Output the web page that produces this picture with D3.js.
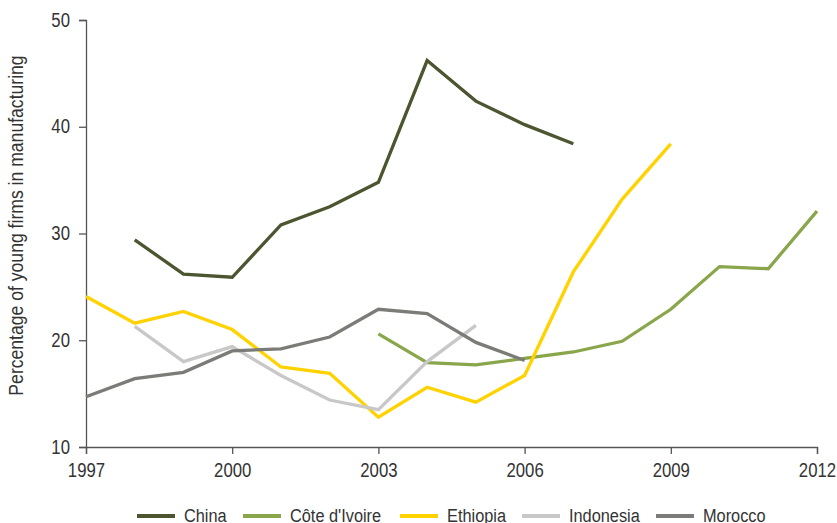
<!DOCTYPE html>
<html lang="en">
<head>
<meta charset="UTF-8">
<title>young firms in manufacturing</title>
<script src="https://d3js.org/d3.v7.min.js"></script>
<style>
body {
  margin: 0;
  background: #fff;
  font-family: 'Liberation Sans', Arial, sans-serif;
}
.axis path, .axis line {
  stroke: #555;
  stroke-width: 1.3px;
}
.axis text {
  fill: #333;
  font-size: 19.5px;
  font-family: 'Liberation Sans', Arial, sans-serif;
}
.ylabel {
  fill: #333;
  font-size: 20px;
}
.legend text {
  fill: #333;
  font-size: 19px;
}
</style>
</head>
<body>
<svg width="837" height="523"></svg>
<script>
// years on the x axis, one value per year (null = no survey)
var years = d3.range(1997, 2013);
var tickYears = [1997, 2000, 2003, 2006, 2009, 2012];
var yTicks = [10, 20, 30, 40, 50];

var china =      [null, 29.4, 26.2, 25.9, 30.8, 32.5, 34.8, 46.2, 42.4, 40.2, 38.4, null, null, null, null, null];
var coteIvoire = [null, null, null, null, null, null, 20.6, 17.9, 17.7, 18.3, 18.9, 19.9, 22.9, 26.9, 26.7, 32.1];
var ethiopia =   [24.1, 21.6, 22.7, 21.0, 17.5, 16.9, 12.8, 15.6, 14.2, 16.7, 26.4, 33.2, 38.4, null, null, null];
var indonesia =  [null, 21.3, 18.0, 19.4, 16.7, 14.4, 13.5, 18.0, 21.4, null, null, null, null, null, null, null];
var morocco =    [14.7, 16.4, 17.0, 19.0, 19.2, 20.3, 22.9, 22.5, 19.8, 18.1, null, null, null, null, null, null];

var names = ["China", "Côte d'Ivoire", "Ethiopia", "Indonesia", "Morocco"];
var colors = ["#4b5631", "#8aa64b", "#ffd200", "#c8c8c8", "#7b7c77"];
var series = [china, coteIvoire, ethiopia, indonesia, morocco];

// the original uses a condensed face; squeeze Liberation Sans to match
var squeeze = 0.86;

var svg = d3.select("svg"),
    margin = {top: 20, right: 20, bottom: 76, left: 86},
    width = +svg.attr("width") - margin.left - margin.right,
    height = +svg.attr("height") - margin.top - margin.bottom;

var g = svg.append("g")
    .attr("transform", "translate(" + margin.left + "," + margin.top + ")");

var x = d3.scaleLinear().domain([1997, 2012]).range([0, width]);
var y = d3.scaleLinear().domain([10, 50]).range([height, 0]);

var xAxis = g.append("g")
    .attr("class", "axis")
    .attr("transform", "translate(0," + height + ")")
    .call(d3.axisBottom(x).tickValues(tickYears).tickFormat(d3.format("d"))
        .tickSizeInner(7).tickSizeOuter(7).tickPadding(9));
xAxis.selectAll("text")
    .attr("transform", "scale(" + squeeze + ",1)");

var yAxis = g.append("g")
    .attr("class", "axis")
    .call(d3.axisLeft(y).tickValues(yTicks)
        .tickSizeInner(7).tickSizeOuter(7).tickPadding(9));
yAxis.selectAll("text")
    .attr("x", -16 / squeeze)
    .attr("transform", "scale(" + squeeze + ",1)");

svg.append("text")
    .attr("class", "ylabel")
    .attr("transform", "translate(23," + (margin.top + height / 2 - 8) + ")rotate(-90)scale(0.88,1)")
    .attr("text-anchor", "middle")
    .text("Percentage of young firms in manufacturing");

var line = d3.line()
    .defined(function(d) { return d != null; })
    .x(function(d, i) { return x(years[i]); })
    .y(function(d) { return y(d); });

g.selectAll(".series")
    .data(series)
    .enter()
    .append("path")
    .attr("class", "series")
    .attr("fill", "none")
    .attr("stroke", function(d, i) { return colors[i]; })
    .attr("stroke-width", 3.3)
    .attr("d", line);

// legend along the bottom
var legendX = [137, 243, 400, 522, 656];
var legend = svg.append("g")
    .attr("class", "legend")
    .selectAll("g")
    .data(names)
    .enter()
    .append("g")
    .attr("transform", function(d, i) { return "translate(" + legendX[i] + ",516)"; });

legend.append("line")
    .attr("x1", 0).attr("x2", 38)
    .attr("stroke", function(d, i) { return colors[i]; })
    .attr("stroke-width", 4);

legend.append("text")
    .attr("transform", "translate(47,6)scale(" + squeeze + ",1)")
    .text(function(d) { return d; });
</script>
</body>
</html>
